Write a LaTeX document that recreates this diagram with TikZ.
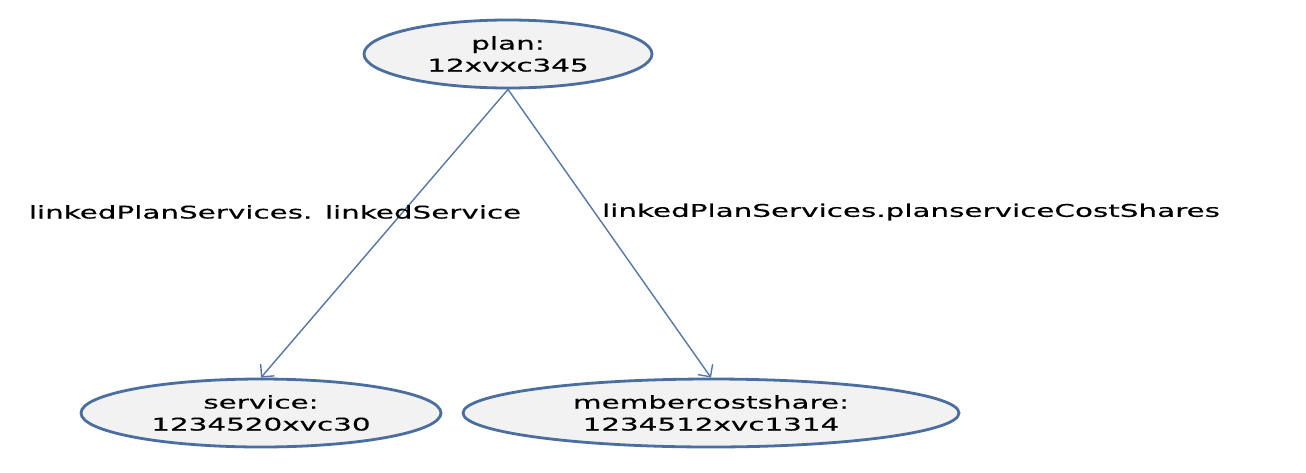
\documentclass[tikz,border=0pt]{standalone}
\usepackage{fontspec}
\setmainfont{DejaVu Sans}[FakeStretch=1.68,FakeBold=0.4]
\usetikzlibrary{shapes.geometric,arrows.meta}
\definecolor{edgeblue}{HTML}{4A6E9F}
\definecolor{lineblue}{HTML}{5677A8}
\definecolor{nodefill}{HTML}{F2F2F2}
\tikzset{
  entity/.style={ellipse, draw=edgeblue, line width=2.8pt, fill=nodefill,
    inner sep=0pt, align=center, font=\fontsize{17.5}{22}\selectfont},
  link/.style={draw=lineblue, line width=1.4pt,
    -{Straight Barb[length=9pt,width=18pt,line width=1.4pt]}},
  lbl/.style={font=\fontsize{17.5}{22}\selectfont, inner sep=0pt}
}
\begin{document}
\begin{tikzpicture}[x=1pt,y=-1pt]
\useasboundingbox[fill=white] (0,0) rectangle (1306,472);
\node[entity, minimum width=288pt, minimum height=68pt] (plan) at (508,54) {plan:\\12xvxc345};
\node[entity, minimum width=360pt, minimum height=68pt] (service) at (261,413) {service:\\1234520xvc30};
\node[entity, minimum width=496pt, minimum height=68pt] (member) at (711,413) {membercostshare:\\1234512xvc1314};
\draw[link] (plan.south) -- (service.north);
\draw[link] (plan.south) -- (member.north);
\node[lbl] (l1) at (275,212) {linkedPlanServices. linkedService};
\node[lbl] (l2) at (911,212) {linkedPlanServices.planserviceCostShares};
\end{tikzpicture}
\end{document}
